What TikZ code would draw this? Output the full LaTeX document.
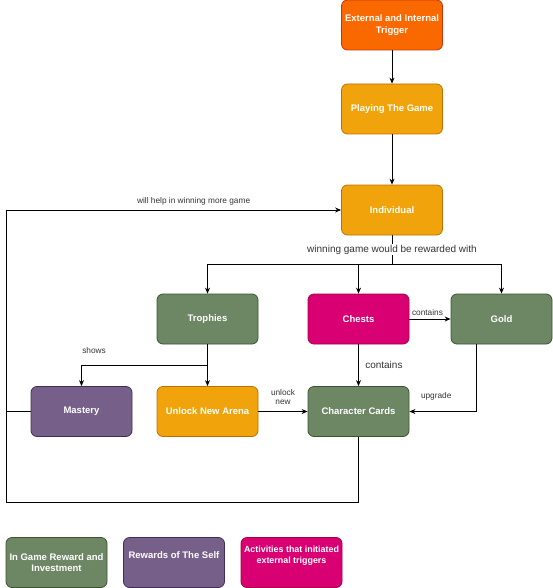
\documentclass[tikz,border=0pt]{standalone}
\usepackage{fontspec}
\setmainfont{Liberation Sans}
\usetikzlibrary{arrows.meta,positioning}
\definecolor{triggerfill}{HTML}{FA6800}
\definecolor{triggerline}{HTML}{C73500}
\definecolor{playfill}{HTML}{F0A30A}
\definecolor{playline}{HTML}{BD7000}
\definecolor{rewardfill}{HTML}{6D8764}
\definecolor{rewardline}{HTML}{3A5431}
\definecolor{selffill}{HTML}{76608A}
\definecolor{selfline}{HTML}{432D57}
\definecolor{chestfill}{HTML}{D80073}
\definecolor{chestline}{HTML}{A50040}

\begin{document}
\begin{tikzpicture}[x=1pt,y=-1pt,>={Stealth[length=6pt,width=5pt]},
  box/.style={rounded corners=6pt,line width=0.8pt,minimum width=101pt,minimum height=50pt,
    inner xsep=1pt,align=center,text=white,font=\fontsize{9.5}{11.5}\selectfont\bfseries},
  trigger/.style={box,fill=triggerfill,draw=triggerline},
  play/.style={box,fill=playfill,draw=playline},
  reward/.style={box,fill=rewardfill,draw=rewardline},
  self/.style={box,fill=selffill,draw=selfline},
  chest/.style={box,fill=chestfill,draw=chestline},
  legend/.style={text depth=15pt},
  flow/.style={->,line width=0.9pt},
  small/.style={font=\fontsize{8.3}{9}\selectfont,text=black!80},
  big/.style={font=\fontsize{10}{12}\selectfont,text=black!80}]
  \useasboundingbox (0,0) rectangle (552,588);
  % main chain
  \node[trigger] (trigger) at (392,25) {External and Internal\\Trigger};
  \node[play] (playing) at (392,109) {Playing The Game};
  \node[play] (individual) at (392,210) {Individual};
  % rewards
  \node[reward] (trophies) at (207.5,319) {Trophies};
  \node[chest] (chests) at (358.5,319) {Chests};
  \node[reward] (gold) at (501.5,319) {Gold};
  \node[self] (mastery) at (81.5,411.5) {Mastery};
  \node[play] (arena) at (207.5,411.5) {Unlock New Arena};
  \node[reward] (cards) at (358.5,411.5) {Character Cards};
  % legend
  \node[reward] (ingame) at (56.5,562.5) {In Game Reward and\\Investment};
  \node[self,legend] (selfkey) at (174,562.5) {Rewards of The Self};
  \node[chest,legend,font=\fontsize{8.9}{11.5}\selectfont\bfseries] (activity) at (291.5,562.5)
    {Activities that initiated\\external triggers};
  % connectors
  \coordinate (split) at (392,264);
  \coordinate (fork) at (207.5,365);
  \coordinate (loopA) at (358.5,502);
  \coordinate (loopB) at (6,502);
  \coordinate (loopC) at (6,210);
  \draw[flow] (trigger) -- (playing);
  \draw[flow] (playing) -- (individual);
  \draw[line width=0.9pt] (individual) -- (split)
    node[midway,fill=white,inner sep=1pt,big] {winning game would be rewarded with};
  \draw[flow] (split) -| (trophies.north);
  \draw[flow] (split) -| (chests.north);
  \draw[flow] (split) -| (gold.north);
  \draw[flow] (chests) -- (gold) node[pos=0.02,above right=0pt and -2pt,small] {contains};
  \draw[flow] (chests) -- (cards) node[midway,right=3pt,big] {contains};
  \draw[flow] ([xshift=-25pt]gold.south) |- (cards.east)
    node[pos=0.8,above=7pt,small] {upgrade};
  \draw[flow] (trophies) -- (arena);
  \draw[flow] (fork) -| (mastery.north) node[pos=0.45,above=8pt,small] {shows};
  \draw[flow] (arena) -- (cards)
    node[midway,above=3pt,align=center,small] {unlock\\new};
  \draw[flow] (cards.south) -- (loopA) -- (loopB) -- (loopC) -- (individual.west)
    node[pos=0.56,above=1pt,small] {will help in winning more game};
  \draw[line width=0.9pt] (mastery.west) -- (mastery.west -| loopB);
\end{tikzpicture}
\end{document}
